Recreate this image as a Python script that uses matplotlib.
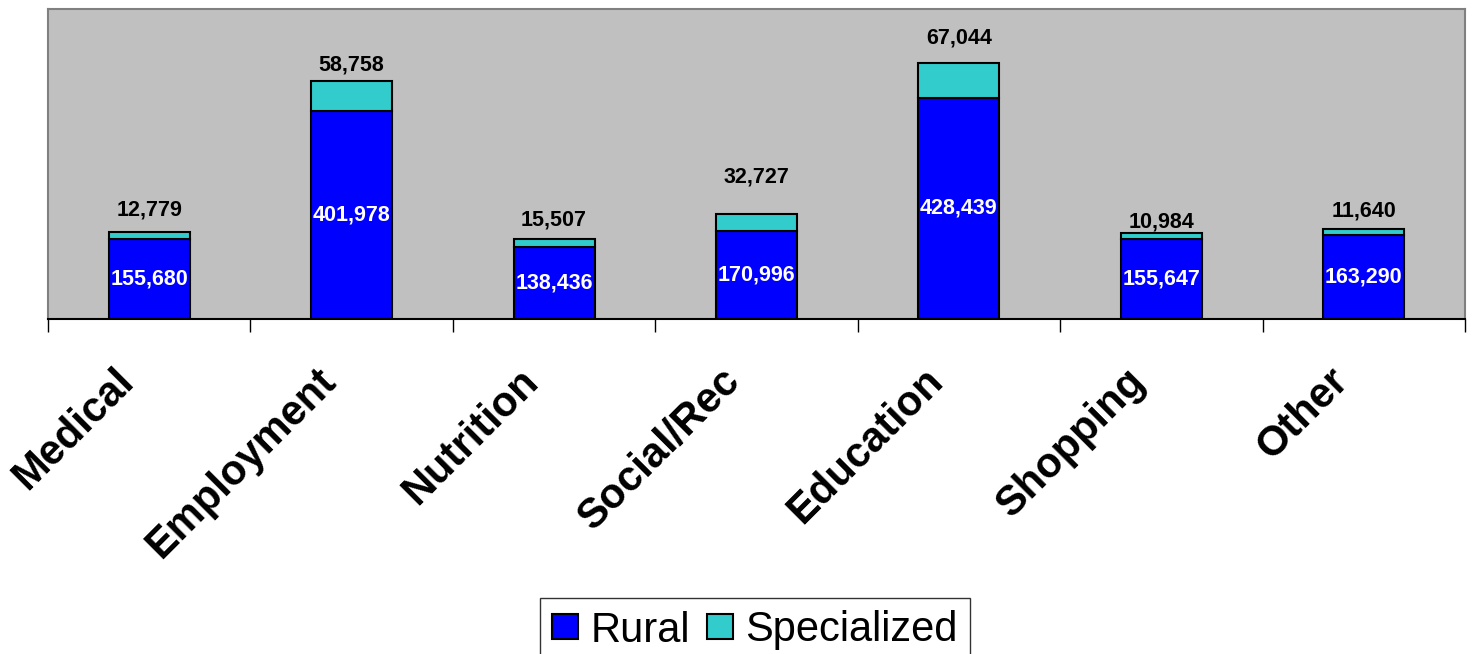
import matplotlib
matplotlib.use("Agg")
import matplotlib.pyplot as plt
from matplotlib.ticker import FixedLocator, NullLocator
import numpy as np

plt.rcParams['font.family'] = ['Liberation Sans', 'DejaVu Sans']

categories = ["Medical", "Employment", "Nutrition", "Social/Rec", "Education", "Shopping", "Other"]
rural = [155680, 401978, 138436, 170996, 428439, 155647, 163290]
specialized = [12779, 58758, 15507, 32727, 67044, 10984, 11640]
series_names = ["Rural", "Specialized"]

# label offsets above bar tops (pixels) - layout only
spec_label_offsets_px = [22, 16, 19, 37, 25, 11, 18]

W, H, DPI = 1476, 654, 100
fig = plt.figure(figsize=(W / DPI, H / DPI), dpi=DPI)
ax = fig.add_axes([48 / W, 1 - 319 / H, 1417 / W, 310 / H])
ax.set_facecolor("#C0C0C0")

x = np.arange(len(categories))
bw = 0.40
b1 = ax.bar(x, rural, bw, color="#0000FF", edgecolor="black", linewidth=1.5, label=series_names[0], zorder=3)
b2 = ax.bar(x, specialized, bw, bottom=rural, color="#33CCCC", edgecolor="black", linewidth=1.5,
            label=series_names[1], zorder=3)

ax.set_xlim(-0.5, len(categories) - 0.5)
ax.set_ylim(0, 600000)
ax.yaxis.set_major_locator(NullLocator())
ax.xaxis.set_major_locator(NullLocator())
ax.xaxis.set_minor_locator(FixedLocator(np.arange(-0.5, len(categories), 1.0)))
ax.tick_params(axis='x', which='minor', direction='out', length=9.5, width=1.0, color='black')
ax.tick_params(axis='y', left=False, labelleft=False)

for s in ["top", "left", "right"]:
    ax.spines[s].set_color("#808080")
    ax.spines[s].set_linewidth(1.5)
ax.spines["bottom"].set_color("black")
ax.spines["bottom"].set_linewidth(1.5)
ax.spines["bottom"].set_zorder(4)

pt = 72.0 / DPI
for i in range(len(categories)):
    ax.text(x[i], rural[i] / 2, f"{rural[i]:,}", ha="center", va="center", color="white",
            fontsize=15.5, fontweight="bold", zorder=5)
    ax.annotate(f"{specialized[i]:,}", xy=(x[i], rural[i] + specialized[i]),
                xytext=(0, spec_label_offsets_px[i] * pt), textcoords="offset points",
                ha="center", va="center", color="black", fontsize=15.5, fontweight="bold", zorder=5)
    ax.annotate(categories[i], xy=(x[i], 0), xycoords=("data", "axes fraction"),
                xytext=(-22 * pt, -56 * pt), textcoords="offset points",
                ha="right", va="center", rotation=45, rotation_mode="anchor",
                fontsize=30, fontweight="bold", color="black", annotation_clip=False)

leg = fig.legend(handles=[b1, b2], labels=series_names, loc="upper center",
                 bbox_to_anchor=(755 / W, 1 - 598 / H), ncol=2, fontsize=30, frameon=True,
                 fancybox=False, edgecolor="black", handlelength=0.62, handleheight=0.55,
                 handletextpad=0.3, columnspacing=0.4, borderpad=0.3, borderaxespad=0)
leg.get_frame().set_linewidth(1.0)

fig.savefig("out.png", dpi=DPI)
